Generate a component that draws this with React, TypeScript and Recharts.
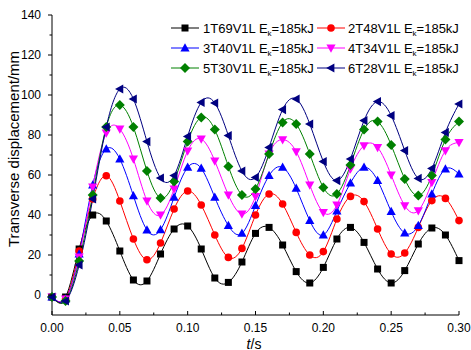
import { LineChart, Line, XAxis, YAxis } from 'recharts';

const TIME = [0, 0.01, 0.02, 0.03, 0.04, 0.05, 0.06, 0.07, 0.08, 0.09, 0.1, 0.11, 0.12, 0.13, 0.14, 0.15, 0.16, 0.17, 0.18, 0.19, 0.2, 0.21, 0.22, 0.23, 0.24, 0.25, 0.26, 0.27, 0.28, 0.29, 0.3];

const S1 = [-1, -1, 23, 40, 37, 22, 7.5, 7, 20.5, 33, 34.5, 23, 8.5, 6.3, 16.5, 30.8, 33.8, 25, 11.7, 6, 13.8, 28, 33.8, 26.3, 13, 6, 12.2, 25.5, 33.5, 30, 17.2];
const S2 = [-1, -2, 22, 48, 59.6, 47, 28, 17.6, 26, 43, 52, 45, 30, 18.8, 23.3, 40, 50.5, 45.5, 31.3, 20, 21.7, 38, 49.3, 46.7, 33, 20.5, 21, 33.8, 47.2, 48.3, 37.2];
const S3 = [-1, -2, 20.5, 55, 73, 68, 49.6, 32.5, 32.6, 48.8, 63.8, 63.3, 48.8, 34.7, 30.8, 44.7, 59.7, 63.8, 53.3, 37.2, 30, 42, 56, 63.8, 57.2, 41.7, 31, 34.7, 50.5, 63, 60.5];
const S4 = [-1, -2, 19, 54, 81, 83, 68, 47, 40, 53, 72, 78, 67, 50, 40.5, 49.3, 70.5, 77.7, 71.7, 55, 41.3, 45, 63, 74.7, 73.8, 60, 44.7, 42.2, 56.3, 72.2, 76.3];
const S5 = [-1, -3, 17, 50, 84, 95, 84, 62, 48.5, 56.7, 76.7, 88.8, 82.7, 64.3, 50, 53, 70.5, 86.3, 85.5, 70.5, 53.8, 50.5, 65, 82.7, 86.7, 75, 58, 49.7, 59.7, 77.7, 86.7];
const S6 = [-1, -3, 15, 48, 84, 103, 98, 76.7, 58.5, 59.7, 79.3, 96.3, 96, 79.7, 62, 58.8, 73.8, 92.7, 98, 85.5, 66.7, 57.2, 68, 87.2, 96.7, 89.7, 72.2, 58.3, 63.3, 81.3, 95.5];

const NAMES = ['1T69V1L', '2T48V1L', '3T40V1L', '4T34V1L', '5T30V1L', '6T28V1L'];

const X_TICKS = [0, 0.025, 0.05, 0.075, 0.1, 0.125, 0.15, 0.175, 0.2, 0.225, 0.25, 0.275, 0.3];
const Y_TICKS = [0, 10, 20, 30, 40, 50, 60, 70, 80, 90, 100, 110, 120, 130, 140];

const SERIES = [
  { key: 's1', values: S1, color: '#000000', shape: 'square' },
  { key: 's2', values: S2, color: '#ff0000', shape: 'circle' },
  { key: 's3', values: S3, color: '#0000ff', shape: 'up' },
  { key: 's4', values: S4, color: '#ff00ff', shape: 'down' },
  { key: 's5', values: S5, color: '#008000', shape: 'diamond' },
  { key: 's6', values: S6, color: '#000080', shape: 'left' },
];

const data = TIME.map((t, i) => {
  const row: Record<string, number> = { t };
  SERIES.forEach(s => { row[s.key] = s.values[i]; });
  return row;
});

const FONT = '"Liberation Sans", Arial, sans-serif';

function Marker({ cx, cy, shape, color }: { cx: number; cy: number; shape: string; color: string }) {
  if (cx == null || cy == null) return null;
  switch (shape) {
    case 'square':
      return <rect x={cx - 3.5} y={cy - 3.5} width={7} height={7} fill={color} />;
    case 'circle':
      return <circle cx={cx} cy={cy} r={3.8} fill={color} />;
    case 'up':
      return <polygon points={`${cx},${cy - 4.8} ${cx - 4.6},${cy + 3.4} ${cx + 4.6},${cy + 3.4}`} fill={color} />;
    case 'down':
      return <polygon points={`${cx},${cy + 4.8} ${cx - 4.6},${cy - 3.4} ${cx + 4.6},${cy - 3.4}`} fill={color} />;
    case 'diamond':
      return <polygon points={`${cx},${cy - 5} ${cx + 5},${cy} ${cx},${cy + 5} ${cx - 5},${cy}`} fill={color} />;
    default:
      return <polygon points={`${cx - 4.8},${cy} ${cx + 3.4},${cy - 4.6} ${cx + 3.4},${cy + 4.6}`} fill={color} />;
  }
}

const XTick = (p: any) => {
  const v = p.payload.value;
  const major = Math.round(v * 1000) % 50 === 0;
  return (
    <g>
      <line x1={p.x} y1={p.y} x2={p.x} y2={p.y - (major ? 4 : 2.5)} stroke="#000" />
      {major && (
        <text x={p.x} y={p.y + 17} textAnchor="middle" fontSize={12} fontFamily={FONT} fill="#000">
          {v.toFixed(2)}
        </text>
      )}
    </g>
  );
};

const YTick = (p: any) => {
  const v = p.payload.value;
  const major = v % 20 === 0;
  return (
    <g>
      <line x1={p.x} y1={p.y} x2={p.x - (major ? 4 : 2.5)} y2={p.y} stroke="#000" />
      {major && (
        <text x={p.x - 11} y={p.y + 4.3} textAnchor="end" fontSize={12} fontFamily={FONT} fill="#000">
          {v}
        </text>
      )}
    </g>
  );
};

function LegendBox() {
  const cols = [{ lx: 171, tx: 203 }, { lx: 317, tx: 348 }];
  return (
    <g>
      {SERIES.map((s, i) => {
        const c = cols[i % 2];
        const y = 28 + Math.floor(i / 2) * 20;
        return (
          <g key={s.key}>
            <line x1={c.lx} y1={y} x2={c.lx + 28} y2={y} stroke={s.color} strokeWidth={1} />
            <Marker cx={c.lx + 14} cy={y} shape={s.shape} color={s.color} />
            <text x={c.tx} y={y + 4.5} fontSize={13} fontFamily={FONT} fill="#000">
              {NAMES[i]} E
              <tspan fontSize={8} dy={3}>k</tspan>
              <tspan dy={-3}>=185kJ</tspan>
            </text>
          </g>
        );
      })}
    </g>
  );
}

export default function App() {
  return (
    <div style={{ position: 'fixed', left: 0, top: 0, width: 471, height: 350, background: '#fff' }}>
      <LineChart width={471} height={350} data={data} margin={{ top: 15, right: 12, bottom: 0, left: 0 }}>
        <XAxis
          dataKey="t"
          type="number"
          domain={[0, 0.3]}
          ticks={X_TICKS}
          interval={0}
          tick={XTick}
          tickLine={false}
          tickSize={0}
          tickMargin={0}
          stroke="#000"
          height={35}
        />
        <YAxis
          type="number"
          domain={[-10, 140]}
          ticks={Y_TICKS}
          interval={0}
          tick={YTick}
          tickLine={false}
          tickSize={0}
          tickMargin={0}
          stroke="#000"
          width={52}
        />
        {SERIES.map(s => (
          <Line
            key={s.key}
            dataKey={s.key}
            type="natural"
            stroke={s.color}
            strokeWidth={1}
            isAnimationActive={false}
            dot={(p: any) => <Marker key={`${s.key}-${p.index}`} cx={p.cx} cy={p.cy} shape={s.shape} color={s.color} />}
            activeDot={false}
          />
        ))}
        <text
          transform="translate(19, 149) rotate(-90)"
          textAnchor="middle"
          fontSize={15}
          fontFamily={FONT}
          fill="#000"
        >
          Transverse displacement/mm
        </text>
        <text x={254} y={348.5} textAnchor="middle" fontSize={14} fontFamily={FONT} fill="#000">
          <tspan fontStyle="italic">t</tspan>/s
        </text>
        <LegendBox />
      </LineChart>
    </div>
  );
}
